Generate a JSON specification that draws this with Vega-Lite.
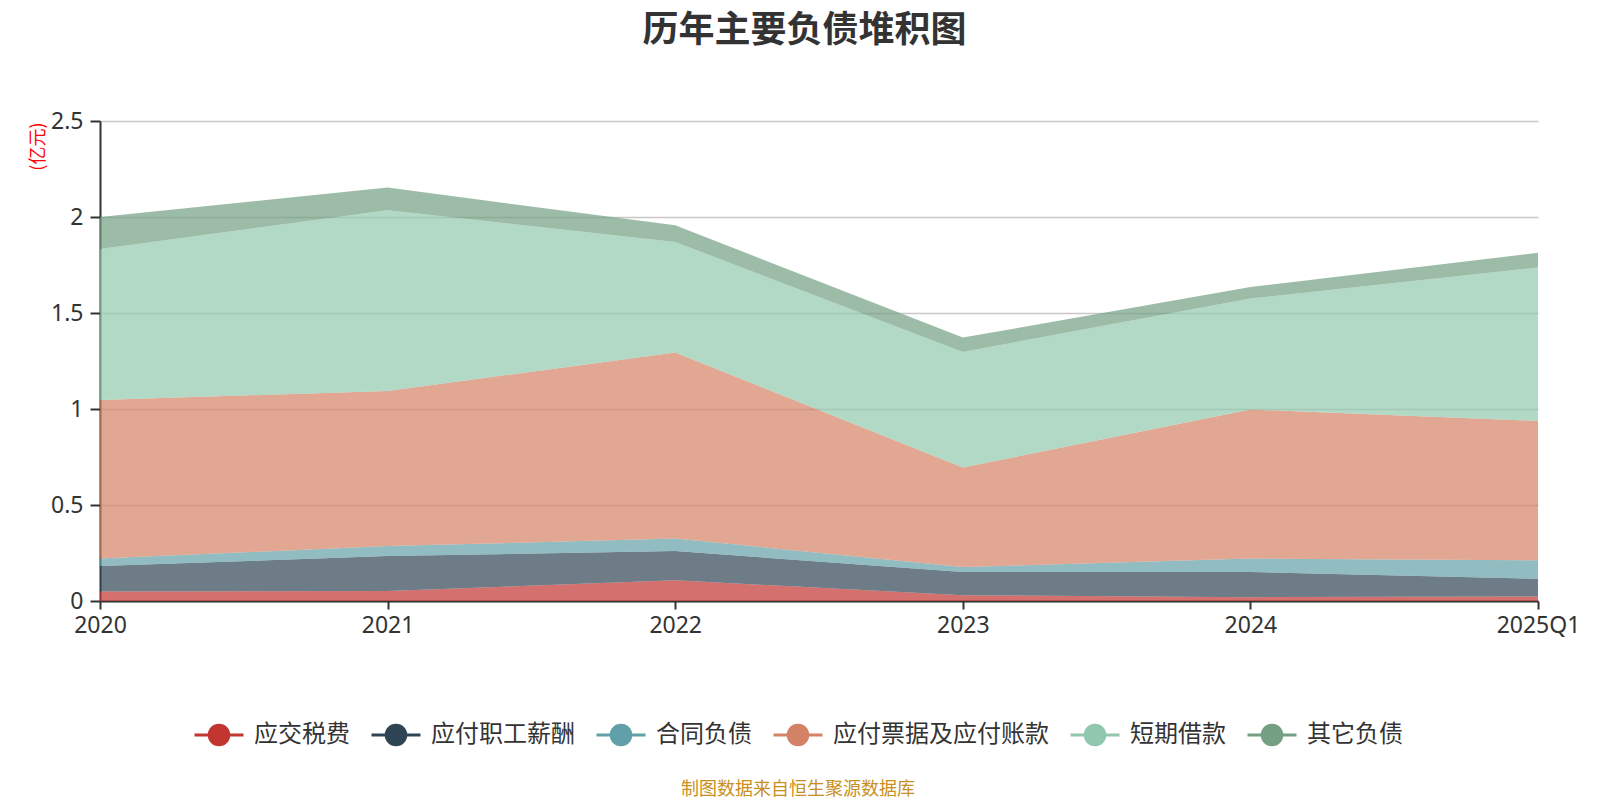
{
  "$schema": "https://vega.github.io/schema/vega-lite/v6.json",
  "width": 1438,
  "height": 480,
  "padding": {"left": 29, "top": 13, "right": 20, "bottom": 0},
  "title": {
    "text": "历年主要负债堆积图",
    "fontSize": 36,
    "fontWeight": "bold",
    "color": "#333333",
    "font": "Noto Sans CJK SC",
    "anchor": "middle",
    "frame": "bounds",
    "offset": 60
  },
  "data": {
    "values": [
      {"year": "2020", "item": "应交税费", "k": 1, "value": 0.049},
      {"year": "2020", "item": "应付职工薪酬", "k": 2, "value": 0.133},
      {"year": "2020", "item": "合同负债", "k": 3, "value": 0.039},
      {"year": "2020", "item": "应付票据及应付账款", "k": 4, "value": 0.826},
      {"year": "2020", "item": "短期借款", "k": 5, "value": 0.786},
      {"year": "2020", "item": "其它负债", "k": 6, "value": 0.167},
      {"year": "2021", "item": "应交税费", "k": 1, "value": 0.052},
      {"year": "2021", "item": "应付职工薪酬", "k": 2, "value": 0.182},
      {"year": "2021", "item": "合同负债", "k": 3, "value": 0.052},
      {"year": "2021", "item": "应付票据及应付账款", "k": 4, "value": 0.808},
      {"year": "2021", "item": "短期借款", "k": 5, "value": 0.941},
      {"year": "2021", "item": "其它负债", "k": 6, "value": 0.118},
      {"year": "2022", "item": "应交税费", "k": 1, "value": 0.108},
      {"year": "2022", "item": "应付职工薪酬", "k": 2, "value": 0.152},
      {"year": "2022", "item": "合同负债", "k": 3, "value": 0.065},
      {"year": "2022", "item": "应付票据及应付账款", "k": 4, "value": 0.969},
      {"year": "2022", "item": "短期借款", "k": 5, "value": 0.576},
      {"year": "2022", "item": "其它负债", "k": 6, "value": 0.087},
      {"year": "2023", "item": "应交税费", "k": 1, "value": 0.030},
      {"year": "2023", "item": "应付职工薪酬", "k": 2, "value": 0.121},
      {"year": "2023", "item": "合同负债", "k": 3, "value": 0.026},
      {"year": "2023", "item": "应付票据及应付账款", "k": 4, "value": 0.518},
      {"year": "2023", "item": "短期借款", "k": 5, "value": 0.602},
      {"year": "2023", "item": "其它负债", "k": 6, "value": 0.075},
      {"year": "2024", "item": "应交税费", "k": 1, "value": 0.020},
      {"year": "2024", "item": "应付职工薪酬", "k": 2, "value": 0.131},
      {"year": "2024", "item": "合同负债", "k": 3, "value": 0.070},
      {"year": "2024", "item": "应付票据及应付账款", "k": 4, "value": 0.776},
      {"year": "2024", "item": "短期借款", "k": 5, "value": 0.578},
      {"year": "2024", "item": "其它负债", "k": 6, "value": 0.060},
      {"year": "2025Q1", "item": "应交税费", "k": 1, "value": 0.024},
      {"year": "2025Q1", "item": "应付职工薪酬", "k": 2, "value": 0.092},
      {"year": "2025Q1", "item": "合同负债", "k": 3, "value": 0.096},
      {"year": "2025Q1", "item": "应付票据及应付账款", "k": 4, "value": 0.726},
      {"year": "2025Q1", "item": "短期借款", "k": 5, "value": 0.799},
      {"year": "2025Q1", "item": "其它负债", "k": 6, "value": 0.077}
    ]
  },
  "mark": {"type": "area", "fillOpacity": 0.7, "interpolate": "linear"},
  "encoding": {
    "x": {
      "field": "year",
      "type": "ordinal",
      "scale": {"type": "point", "padding": 0},
      "axis": {
        "title": null,
        "labelAngle": 0,
        "labelFont": "Noto Sans",
        "labelFontSize": 23,
        "labelColor": "#333333",
        "labelPadding": 5,
        "tickSize": 8,
        "tickColor": "#333333",
        "domainColor": "#333333",
        "domainWidth": 2,
        "tickWidth": 2,
        "grid": false
      }
    },
    "y": {
      "field": "value",
      "type": "quantitative",
      "stack": "zero",
      "scale": {"domain": [0, 2.5]},
      "axis": {
        "values": [0, 0.5, 1, 1.5, 2, 2.5],
        "format": "~g",
        "title": "(亿元)",
        "titleColor": "red",
        "titleFont": "Noto Sans CJK SC",
        "titleFontSize": 18,
        "titleFontWeight": "normal",
        "titleAngle": 270,
        "titleX": -62,
        "titleY": 1,
        "titleAlign": "right",
        "titleBaseline": "middle",
        "labelFont": "Noto Sans",
        "labelFontSize": 23,
        "labelColor": "#333333",
        "labelPadding": 7,
        "tickSize": 10,
        "tickColor": "#333333",
        "tickWidth": 2,
        "domainColor": "#333333",
        "domainWidth": 2,
        "gridColor": "#c8c8c8",
        "gridWidth": 1.5
      }
    },
    "color": {
      "field": "item",
      "type": "nominal",
      "scale": {
        "domain": ["应交税费", "应付职工薪酬", "合同负债", "应付票据及应付账款", "短期借款", "其它负债"],
        "range": ["#c23531", "#2f4554", "#61a0a8", "#d48265", "#91c7ae", "#749f83"]
      },
      "legend": {
        "orient": "none",
        "legendX": 93,
        "legendY": 588,
        "direction": "horizontal",
        "columns": 6,
        "padding": 0,
        "gridAlign": "none",
        "columnPadding": 15,
        "labelFontSize": 24,
        "labelLimit": 0,
        "labelColor": "#333333",
        "labelOffset": 9,
        "symbolType": "M-1,0L1,0M-0.4,0A0.4,0.4,0,1,1,0.4,0A0.4,0.4,0,1,1,-0.4,0Z",
        "symbolSize": 2400,
        "symbolStrokeWidth": 3,
        "symbolOpacity": 1,
        "symbolFillOpacity": 1,
        "title": "制图数据来自恒生聚源数据库",
        "titleLimit": 0,
        "titleOrient": "bottom",
        "titleAnchor": "middle",
        "titleAlign": "center",
        "titleColor": "#c8901e",
        "titleFontSize": 18,
        "titleFontWeight": "normal",
        "titlePadding": 30,
        "encode": {
          "symbols": {
            "update": {
              "stroke": {"scale": "color", "field": "value"},
              "strokeWidth": {"value": 3},
              "opacity": {"value": 1},
              "fillOpacity": {"value": 1}
            }
          }
        }
      }
    },
    "order": {"field": "k", "type": "quantitative"}
  },
  "config": {
    "view": {"stroke": null},
    "font": "Noto Sans CJK SC"
  }
}
